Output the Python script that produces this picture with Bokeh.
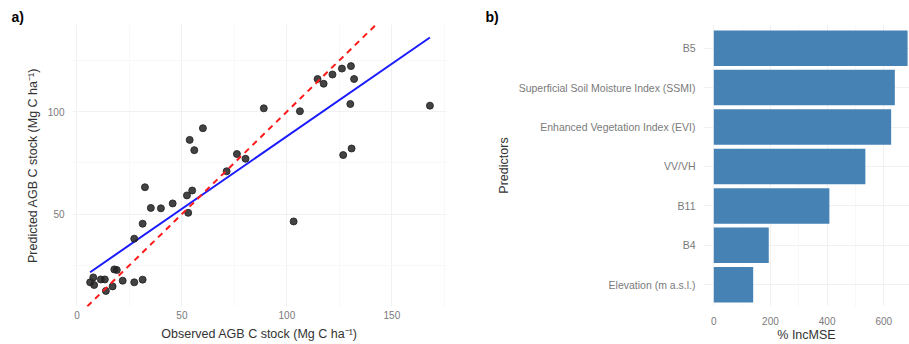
import numpy as np
from bokeh.plotting import figure
from bokeh.models import Range1d, Slope, FixedTicker
from bokeh.layouts import row
from bokeh.embed import file_html
from bokeh.resources import INLINE

# ---- panel a data: observed vs predicted AGB C stock (Mg C ha-1)
observed = [6.3, 7.8, 8.2, 11.4, 13.3, 13.8, 17.0, 17.8, 19.0, 21.8, 27.3, 27.3,
            31.3, 31.3, 32.4, 35.2, 40.0, 45.6, 52.4, 53.0, 53.7, 54.9, 55.9, 60.0,
            71.3, 76.2, 80.3, 89.0, 103.2, 106.2, 114.6, 117.5, 121.7, 126.2, 126.8,
            130.5, 130.2, 130.8, 132.0, 168.1]
predicted = [16.7, 19.1, 15.4, 18.1, 18.1, 12.5, 14.7, 23.0, 22.7, 17.5, 16.7, 38.0,
             18.0, 45.3, 63.1, 53.0, 52.8, 55.2, 59.1, 50.6, 86.2, 61.5, 81.2, 91.9,
             70.9, 79.3, 77.0, 101.6, 46.4, 100.2, 115.9, 113.6, 118.1, 121.0, 78.8,
             122.2, 103.7, 82.0, 115.9, 102.9]
x_ticks_a = [0, 50, 100, 150]
y_ticks_a = [50, 100]

# ---- panel b data: variable importance
predictors = ["Elevation (m a.s.l.)", "B4", "B11", "VV/VH",
              "Enhanced Vegetation Index (EVI)",
              "Superficial Soil Moisture Index (SSMI)", "B5"]
inc_mse = [139, 194, 408, 535, 626, 639, 684]
x_ticks_b = [0, 200, 400, 600]

FONT = "Liberation Sans"
TICK_COLOR = "#7a7a7a"
TITLE_COLOR = "#333333"
GRID = "#f1f1f1"


def style_axes(p):
    for ax in p.axis:
        ax.axis_line_color = None
        ax.major_tick_line_color = None
        ax.minor_tick_line_color = None
        ax.major_tick_out = 0
        ax.major_tick_in = 0
        ax.minor_tick_out = 0
        ax.major_label_text_font = FONT
        ax.major_label_text_font_size = "10px"
        ax.major_label_text_color = TICK_COLOR
        ax.axis_label_text_font = FONT
        ax.axis_label_text_font_size = "12.5px"
        ax.axis_label_text_font_style = "normal"
        ax.axis_label_text_color = TITLE_COLOR
    p.outline_line_color = None
    p.background_fill_color = "white"
    p.border_fill_color = "white"


def panel_tag(p, text, offset):
    p.title.text = text
    p.title.align = "left"
    p.title.offset = offset
    p.title.standoff = 0
    p.title.text_font = FONT
    p.title.text_font_size = "14px"
    p.title.text_font_style = "bold"
    p.title.text_color = "black"


# ---------------- panel a
p1 = figure(width=460, height=344, output_backend="svg", toolbar_location=None,
            x_range=Range1d(-2.1, 176), y_range=Range1d(4.9, 142.5),
            min_border_left=72, min_border_right=14, min_border_top=22,
            min_border_bottom=38)
style_axes(p1)
p1.xaxis.ticker = FixedTicker(ticks=x_ticks_a, minor_ticks=[25, 75, 125, 175])
p1.yaxis.ticker = FixedTicker(ticks=y_ticks_a, minor_ticks=[25, 75, 125])
p1.xaxis.axis_label = "Observed AGB C stock (Mg C ha\u207b\u00b9)"
p1.yaxis.axis_label = "Predicted AGB C stock (Mg C ha\u207b\u00b9)"
p1.xaxis.major_label_standoff = 4
p1.xaxis.axis_label_standoff = 5
p1.yaxis.major_label_standoff = 8
p1.yaxis.axis_label_standoff = 5
p1.grid.grid_line_color = GRID
p1.grid.minor_grid_line_color = "#f8f8f8"

p1.add_layout(Slope(gradient=1, y_intercept=0, line_color="#ff1a1a",
                    line_width=2, line_dash="6 5"))
coef = np.polyfit(observed, predicted, 1)
xs = [min(observed), max(observed)]
p1.line(xs, [coef[0] * x + coef[1] for x in xs], line_color="#1a1aff", line_width=2)
p1.scatter(observed, predicted, size=7, fill_color="#222222", line_color="#222222",
           fill_alpha=0.85, line_alpha=0.85)
panel_tag(p1, "a)", -61)

# ---------------- panel b
positions = list(range(1, len(predictors) + 1))
p2 = figure(width=449, height=344, output_backend="svg", toolbar_location=None,
            x_range=Range1d(-36.4, 690.8), y_range=Range1d(0.45, len(predictors) + 0.6),
            min_border_left=243, min_border_right=0, min_border_top=24,
            min_border_bottom=34)
style_axes(p2)
p2.xaxis.ticker = FixedTicker(ticks=x_ticks_b, minor_ticks=[100, 300, 500])
p2.yaxis.ticker = FixedTicker(ticks=positions)
p2.yaxis.major_label_overrides = {pos: name for pos, name in zip(positions, predictors)}
p2.yaxis.major_label_text_font_size = "10.5px"
p2.xaxis.axis_label = "% IncMSE"
p2.yaxis.axis_label = "Predictors"
p2.xaxis.major_label_standoff = 10
p2.xaxis.axis_label_standoff = 0
p2.yaxis.major_label_standoff = 8
p2.yaxis.axis_label_standoff = 5
p2.grid.grid_line_color = GRID
p2.xgrid.minor_grid_line_color = "#f8f8f8"

p2.hbar(y=positions, left=0, right=inc_mse, height=0.9, fill_color="#4682b4",
        line_color=None)
panel_tag(p2, "b)", -218)

layout = row(p1, p2, spacing=0)
open("out.html", "w").write(file_html(layout, INLINE))
